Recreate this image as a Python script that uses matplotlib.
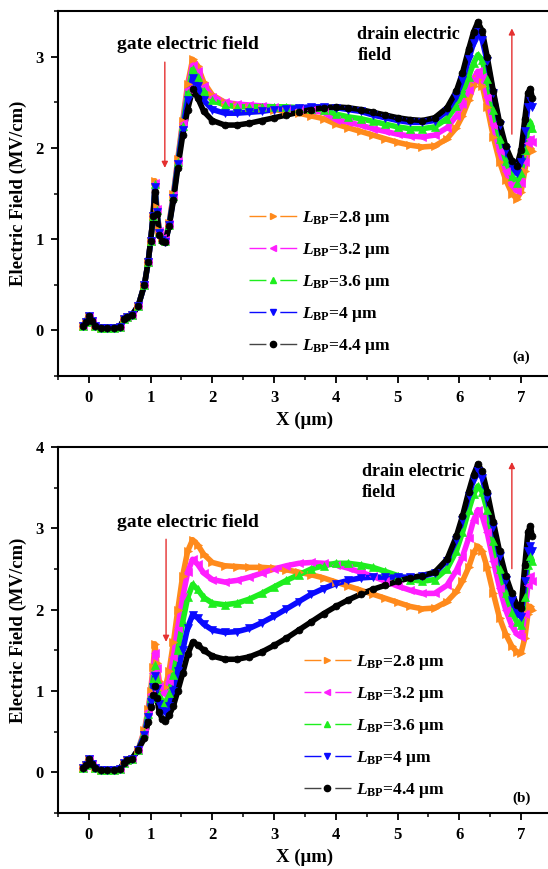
import matplotlib
matplotlib.use("Agg")
import matplotlib.pyplot as plt
from matplotlib.lines import Line2D
from matplotlib.legend_handler import HandlerTuple

plt.rcParams['font.family'] = ['Liberation Serif', 'DejaVu Serif']
plt.rcParams['font.weight'] = 'bold'
plt.rcParams['mathtext.fontset'] = 'custom'
plt.rcParams['mathtext.rm'] = 'Liberation Serif:bold'
plt.rcParams['mathtext.it'] = 'Liberation Serif:italic:bold'
plt.rcParams['mathtext.bf'] = 'Liberation Serif:bold'
plt.rcParams['mathtext.bfit'] = 'Liberation Serif:italic:bold'

# ---------------- data ----------------
X = [-0.1, -0.05, 0.0, 0.05, 0.1, 0.2, 0.3, 0.4, 0.5, 0.57, 0.62, 0.7, 0.8, 0.9,
     0.96, 1.0, 1.04, 1.07, 1.1, 1.14, 1.19, 1.24, 1.3, 1.37, 1.44, 1.52, 1.6,
     1.68, 1.76, 1.86, 2.0, 2.2, 2.4, 2.6, 2.8, 3.0, 3.2, 3.4, 3.6, 3.8, 4.0,
     4.2, 4.4, 4.6, 4.8, 5.0, 5.2, 5.4, 5.6, 5.8, 5.95, 6.05, 6.15, 6.23, 6.3,
     6.37, 6.45, 6.55, 6.65, 6.75, 6.85, 6.93, 7.0, 7.06, 7.11, 7.15, 7.18]

labels = ['2.8', '3.2', '3.6', '4', '4.4']

# panel (a)
a_28 = [0.05, 0.09, 0.16, 0.10, 0.05, 0.03, 0.03, 0.03, 0.04, 0.12, 0.15, 0.17, 0.27, 0.50,
        0.75, 0.98, 1.25, 1.64, 1.35, 1.10, 1.02, 1.00, 1.18, 1.50, 1.88, 2.30, 2.70,
        2.97, 2.90, 2.72, 2.58, 2.50, 2.47, 2.45, 2.44, 2.42, 2.40, 2.38, 2.35, 2.32, 2.26,
        2.22, 2.18, 2.14, 2.10, 2.06, 2.03, 2.01, 2.02, 2.10, 2.22, 2.35, 2.52, 2.68, 2.76,
        2.68, 2.45, 2.12, 1.85, 1.65, 1.50, 1.44, 1.52, 1.75, 1.95, 2.00, 1.97]
a_32 = [0.05, 0.09, 0.16, 0.10, 0.05, 0.03, 0.03, 0.03, 0.04, 0.12, 0.15, 0.17, 0.27, 0.50,
        0.75, 0.98, 1.25, 1.62, 1.33, 1.09, 1.01, 0.99, 1.17, 1.48, 1.86, 2.27, 2.65,
        2.91, 2.84, 2.68, 2.56, 2.50, 2.48, 2.47, 2.46, 2.45, 2.44, 2.43, 2.41, 2.39, 2.31,
        2.28, 2.25, 2.21, 2.18, 2.15, 2.13, 2.12, 2.14, 2.22, 2.35, 2.48, 2.63, 2.76, 2.84,
        2.78, 2.56, 2.25, 1.97, 1.75, 1.59, 1.53, 1.62, 1.85, 2.05, 2.10, 2.06]
a_36 = [0.05, 0.09, 0.16, 0.10, 0.05, 0.03, 0.03, 0.03, 0.04, 0.12, 0.15, 0.17, 0.27, 0.50,
        0.75, 0.98, 1.25, 1.60, 1.32, 1.08, 1.00, 0.98, 1.16, 1.47, 1.84, 2.24, 2.60,
        2.86, 2.78, 2.62, 2.52, 2.47, 2.45, 2.45, 2.45, 2.45, 2.45, 2.44, 2.43, 2.42, 2.37,
        2.34, 2.32, 2.29, 2.26, 2.23, 2.21, 2.21, 2.23, 2.32, 2.46, 2.60, 2.78, 2.93, 3.02,
        2.96, 2.75, 2.42, 2.10, 1.86, 1.69, 1.62, 1.72, 1.98, 2.22, 2.28, 2.22]
a_40 = [0.05, 0.09, 0.16, 0.10, 0.05, 0.03, 0.03, 0.03, 0.04, 0.12, 0.15, 0.17, 0.27, 0.50,
        0.75, 0.98, 1.25, 1.57, 1.30, 1.07, 0.99, 0.97, 1.15, 1.45, 1.82, 2.20, 2.52,
        2.77, 2.68, 2.52, 2.42, 2.38, 2.38, 2.39, 2.40, 2.42, 2.43, 2.44, 2.45, 2.45, 2.44,
        2.42, 2.40, 2.36, 2.33, 2.30, 2.28, 2.28, 2.30, 2.40, 2.56, 2.74, 2.97, 3.15, 3.27,
        3.18, 2.95, 2.60, 2.25, 1.98, 1.80, 1.72, 1.85, 2.18, 2.45, 2.52, 2.45]
a_44 = [0.05, 0.09, 0.16, 0.10, 0.05, 0.03, 0.03, 0.03, 0.04, 0.12, 0.15, 0.17, 0.27, 0.50,
        0.75, 0.98, 1.25, 1.52, 1.28, 1.05, 0.98, 0.97, 1.14, 1.43, 1.78, 2.14, 2.42,
        2.64, 2.55, 2.40, 2.30, 2.25, 2.25, 2.27, 2.30, 2.33, 2.36, 2.39, 2.42, 2.44, 2.45,
        2.44, 2.42, 2.39, 2.36, 2.33, 2.31, 2.30, 2.33, 2.44, 2.62, 2.82, 3.08, 3.27, 3.38,
        3.28, 3.00, 2.62, 2.28, 2.02, 1.86, 1.80, 1.98, 2.32, 2.60, 2.65, 2.55]

# panel (b)
b_28 = [0.05, 0.09, 0.16, 0.10, 0.05, 0.03, 0.03, 0.03, 0.04, 0.12, 0.15, 0.17, 0.28, 0.52,
        0.78, 1.00, 1.30, 1.58, 1.35, 1.12, 1.05, 1.05, 1.25, 1.60, 2.00, 2.42, 2.72,
        2.86, 2.80, 2.68, 2.58, 2.54, 2.53, 2.52, 2.52, 2.51, 2.49, 2.46, 2.43, 2.39, 2.34,
        2.29, 2.24, 2.19, 2.14, 2.09, 2.04, 2.01, 2.02, 2.10, 2.22, 2.35, 2.52, 2.70, 2.78,
        2.72, 2.52, 2.20, 1.90, 1.70, 1.55, 1.48, 1.47, 1.65, 1.95, 2.04, 2.00]
b_32 = [0.05, 0.09, 0.16, 0.10, 0.05, 0.03, 0.03, 0.03, 0.04, 0.12, 0.15, 0.17, 0.28, 0.50,
        0.75, 0.96, 1.22, 1.47, 1.28, 1.06, 0.98, 0.97, 1.12, 1.42, 1.78, 2.15, 2.46,
        2.62, 2.56, 2.45, 2.37, 2.34, 2.36, 2.40, 2.45, 2.50, 2.54, 2.57, 2.58, 2.57, 2.55,
        2.51, 2.46, 2.41, 2.35, 2.29, 2.24, 2.20, 2.20, 2.30, 2.48, 2.65, 2.88, 3.10, 3.23,
        3.15, 2.95, 2.60, 2.27, 2.00, 1.80, 1.70, 1.67, 1.95, 2.30, 2.41, 2.35]
b_36 = [0.05, 0.09, 0.16, 0.10, 0.05, 0.03, 0.03, 0.03, 0.04, 0.12, 0.15, 0.17, 0.28, 0.48,
        0.72, 0.92, 1.14, 1.32, 1.15, 0.95, 0.87, 0.85, 0.97, 1.20, 1.50, 1.85, 2.15,
        2.31, 2.25, 2.15, 2.08, 2.06, 2.08, 2.13, 2.20, 2.28, 2.36, 2.43, 2.50, 2.54, 2.57,
        2.57, 2.55, 2.52, 2.47, 2.42, 2.37, 2.35, 2.37, 2.50, 2.72, 2.95, 3.22, 3.42, 3.52,
        3.45, 3.22, 2.85, 2.50, 2.20, 1.97, 1.85, 1.81, 2.15, 2.55, 2.66, 2.60]
b_40 = [0.05, 0.09, 0.16, 0.10, 0.05, 0.03, 0.03, 0.03, 0.04, 0.12, 0.15, 0.17, 0.28, 0.46,
        0.68, 0.87, 1.05, 1.18, 1.02, 0.84, 0.76, 0.74, 0.82, 1.00, 1.24, 1.50, 1.78,
        1.94, 1.90, 1.82, 1.75, 1.72, 1.73, 1.77, 1.84, 1.92, 2.01, 2.10, 2.19, 2.26, 2.32,
        2.36, 2.39, 2.40, 2.40, 2.40, 2.40, 2.41, 2.45, 2.60, 2.86, 3.10, 3.40, 3.60, 3.70,
        3.62, 3.38, 3.02, 2.66, 2.36, 2.12, 1.96, 1.91, 2.35, 2.72, 2.78, 2.72]
b_44 = [0.05, 0.09, 0.16, 0.10, 0.05, 0.03, 0.03, 0.03, 0.04, 0.12, 0.15, 0.17, 0.28, 0.42,
        0.62, 0.80, 0.95, 1.06, 0.92, 0.74, 0.65, 0.63, 0.70, 0.82, 1.00, 1.22, 1.45,
        1.60, 1.57, 1.50, 1.43, 1.39, 1.39, 1.42, 1.48, 1.56, 1.65, 1.75, 1.85, 1.95, 2.04,
        2.12, 2.19, 2.25, 2.30, 2.35, 2.39, 2.42, 2.46, 2.62, 2.90, 3.15, 3.45, 3.66, 3.79,
        3.70, 3.45, 3.08, 2.72, 2.42, 2.20, 2.06, 2.02, 2.55, 2.95, 3.03, 2.90]

series_a = [a_28, a_32, a_36, a_40, a_44]
series_b = [b_28, b_32, b_36, b_40, b_44]

colors = ['#FF8A1C', '#FF1EFF', '#1EEE1E', '#0A0AFF', '#000000']
legend_line_colors = ['#FF8A1C', '#FF1EFF', '#1EEE1E', '#0A0AFF', '#444444']
markers = ['>', '<', '^', 'v', 'o']
msizes = [6, 6, 6, 6, 5]

# ---------------- figure ----------------
fig = plt.figure(figsize=(5.48, 8.69), dpi=100)
W, H = 548.0, 869.0
ax_a = fig.add_axes([58 / W, 1 - 376 / H, 494 / W, 365 / H])
ax_b = fig.add_axes([58 / W, 1 - 813 / H, 494 / W, 366 / H])


def style_axes(ax, ylim, yticks):
    ax.set_xlim(-0.5, 7.5)
    ax.set_ylim(*ylim)
    ax.set_xticks(range(0, 8))
    ax.set_xticks([i * 0.5 - 0.5 for i in range(17)], minor=True)
    ax.set_yticks(yticks)
    ax.set_yticks([ylim[0] + 0.5 * i for i in range(int((ylim[1] - ylim[0]) / 0.5) + 1)], minor=True)
    ax.tick_params(which='major', direction='out', length=5, width=1.3, labelsize=12, pad=5)
    ax.tick_params(which='minor', direction='out', length=3, width=1.1)
    for sp in ax.spines.values():
        sp.set_linewidth(1.5)
    for lab in ax.get_xticklabels() + ax.get_yticklabels():
        lab.set_fontweight('bold')
    ax.set_xlabel('X (μm)', fontsize=13.5, fontweight='bold', labelpad=4)
    ax.set_ylabel('Electric Field (MV/cm)', fontsize=13.5, fontweight='bold', labelpad=6)


def draw(ax, series):
    for ys, c, m, ms in zip(series, colors, markers, msizes):
        ax.plot(X, ys, color=c, lw=4.0, solid_capstyle='round', zorder=2)
        ax.plot(X, ys, linestyle='none', marker=m, ms=ms, color=c, mec=c, mew=0.5, zorder=3)


draw(ax_a, series_a)
draw(ax_b, series_b)
style_axes(ax_a, (-0.5, 3.5), [0, 1, 2, 3])
style_axes(ax_b, (-0.5, 4.0), [0, 1, 2, 3, 4])

FS = 12.5
HL = 2.75
gap = 10.0
seg = (HL * FS - gap) / 2.0
handles = []
for lc, c, m in zip(legend_line_colors, colors, markers):
    ln = Line2D([0], [0], color=lc, lw=1.0, linestyle=(0, (seg, gap)))
    mk = Line2D([0], [0], linestyle='none', marker=m, ms=4.5, mfc=c, mec=c)
    handles.append((ln, mk))
leg_labels = [r'$\mathbfit{L}_{\mathbf{BP}}$=' + v + ' μm' for v in labels]

leg_kw = dict(loc='upper left', frameon=False, fontsize=FS, handlelength=HL, labelspacing=0.75,
              handletextpad=0.3, borderaxespad=0, handler_map={tuple: HandlerTuple(ndivide=1)})
ax_a.legend(handles, leg_labels, bbox_to_anchor=(0.373, 0.477), **leg_kw)
ax_b.legend(handles, leg_labels, bbox_to_anchor=(0.483, 0.457), **leg_kw)

arrow_kw = dict(arrowstyle='-|>', color='#E53030', lw=1.0, mutation_scale=9)

# panel (a) annotations
ax_a.text(1.6, 3.13, 'gate electric field', ha='center', va='center', fontsize=14, fontweight='bold')
ax_a.annotate('', xy=(1.23, 1.75), xytext=(1.23, 2.97), arrowprops=arrow_kw)
ax_a.text(4.35, 3.34, 'drain electric\nfield', ha='left', va='top', fontsize=13,
          fontweight='bold', linespacing=1.3)
ax_a.annotate('', xy=(6.85, 3.34), xytext=(6.85, 2.12), arrowprops=arrow_kw)
ax_a.text(7.0, -0.3, '(a)', ha='center', va='center', fontsize=11, fontweight='bold')

# panel (b) annotations
ax_b.text(1.6, 3.07, 'gate electric field', ha='center', va='center', fontsize=14, fontweight='bold')
ax_b.annotate('', xy=(1.25, 1.57), xytext=(1.25, 2.9), arrowprops=arrow_kw)
ax_b.text(4.42, 3.8, 'drain electric\nfield', ha='left', va='top', fontsize=13,
          fontweight='bold', linespacing=1.3)
ax_b.annotate('', xy=(6.85, 3.85), xytext=(6.85, 2.47), arrowprops=arrow_kw)
ax_b.text(7.0, -0.32, '(b)', ha='center', va='center', fontsize=11, fontweight='bold')

fig.savefig('out.png', dpi=100)
